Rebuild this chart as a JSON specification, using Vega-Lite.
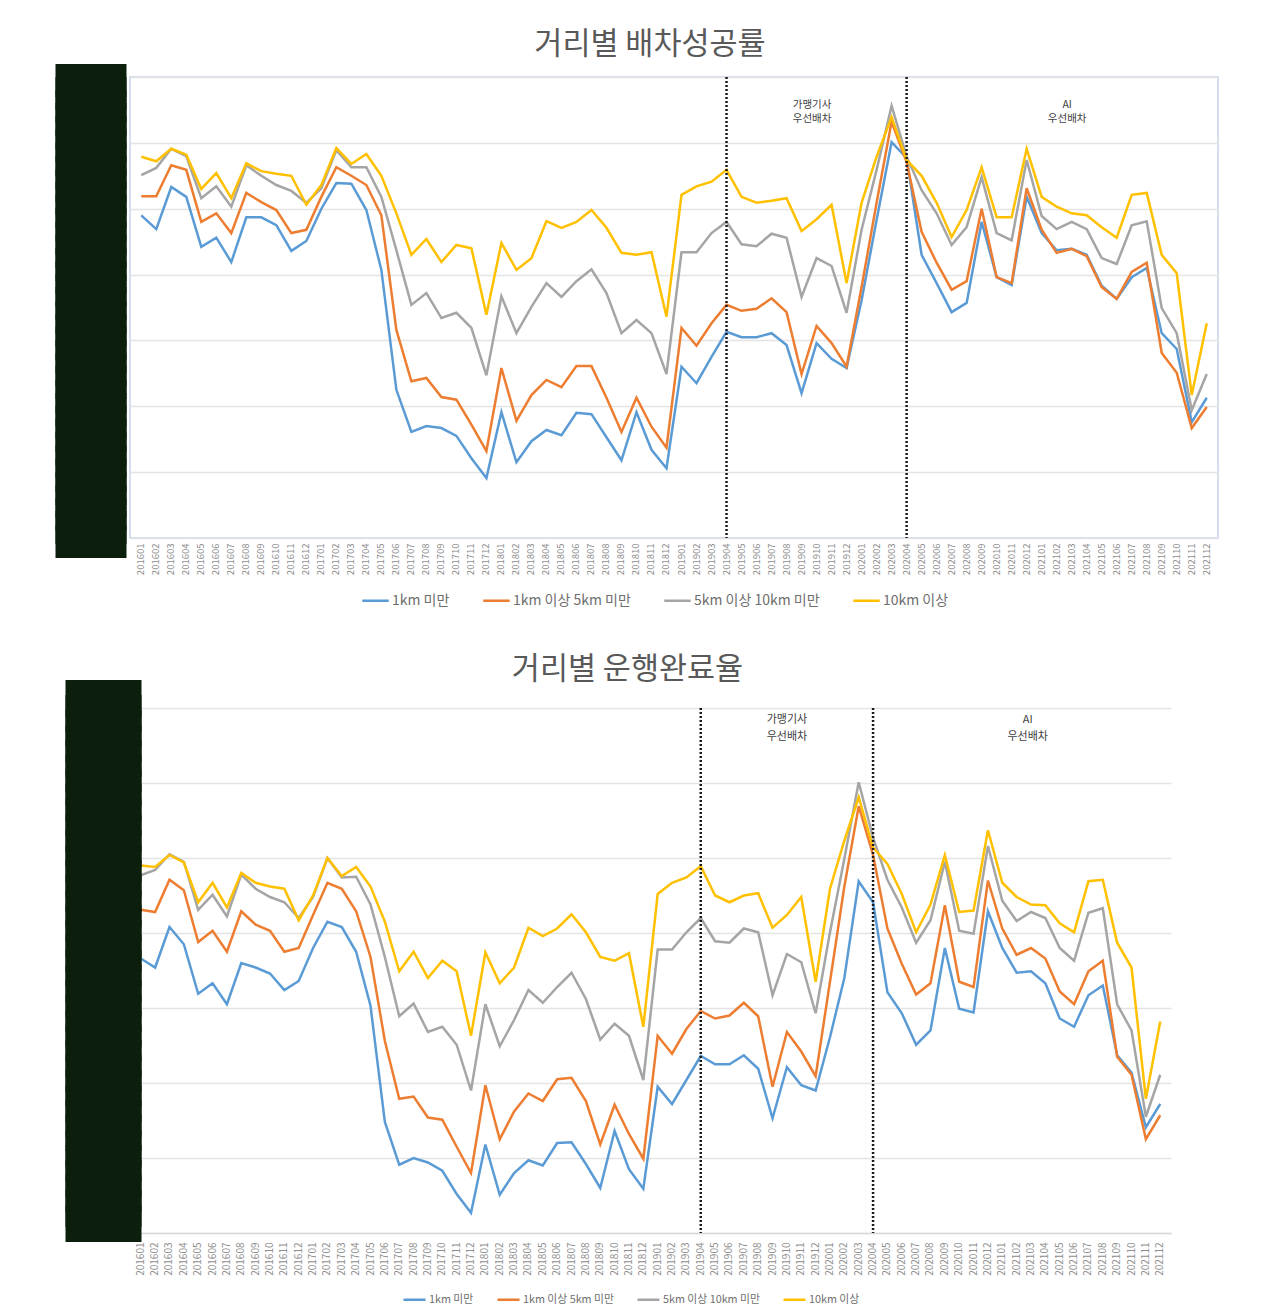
{
  "$schema": "https://vega.github.io/schema/vega-lite/v6.json",
  "background": "white",
  "padding": {"left": 37, "top": 29, "right": 5, "bottom": 5},
  "config": {
    "font": "Noto Sans CJK KR",
    "view": {"stroke": null},
    "title": {"font": "Noto Sans CJK KR", "fontSize": 30.5, "fontWeight": "normal", "color": "#595959", "anchor": "middle", "frame": "group"},
    "axis": {"labelFont": "Noto Sans CJK KR", "labelColor": "#8e8e8e"},
    "legend": {"labelFont": "Noto Sans CJK KR", "labelColor": "#6e6e6e"}
  },
  "datasets": {
    "dispatch": [
      {"m":"201601","1km 미만":79.0,"1km 이상 5km 미만":81.9,"5km 이상 10km 미만":85.1,"10km 이상":87.9},
      {"m":"201602","1km 미만":76.9,"1km 이상 5km 미만":81.9,"5km 이상 10km 미만":86.2,"10km 이상":87.2},
      {"m":"201603","1km 미만":83.3,"1km 이상 5km 미만":86.6,"5km 이상 10km 미만":89.1,"10km 이상":89.1},
      {"m":"201604","1km 미만":81.8,"1km 이상 5km 미만":85.9,"5km 이상 10km 미만":88.0,"10km 이상":88.2},
      {"m":"201605","1km 미만":74.2,"1km 이상 5km 미만":78.0,"5km 이상 10km 미만":81.6,"10km 이상":83.0},
      {"m":"201606","1km 미만":75.6,"1km 이상 5km 미만":79.3,"5km 이상 10km 미만":83.4,"10km 이상":85.4},
      {"m":"201607","1km 미만":71.9,"1km 이상 5km 미만":76.3,"5km 이상 10km 미만":80.3,"10km 이상":81.6},
      {"m":"201608","1km 미만":78.7,"1km 이상 5km 미만":82.4,"5km 이상 10km 미만":86.6,"10km 이상":86.9},
      {"m":"201609","1km 미만":78.7,"1km 이상 5km 미만":81.0,"5km 이상 10km 미만":85.0,"10km 이상":85.7},
      {"m":"201610","1km 미만":77.5,"1km 이상 5km 미만":79.8,"5km 이상 10km 미만":83.6,"10km 이상":85.3},
      {"m":"201611","1km 미만":73.6,"1km 이상 5km 미만":76.3,"5km 이상 10km 미만":82.7,"10km 이상":85.0},
      {"m":"201612","1km 미만":75.1,"1km 이상 5km 미만":76.8,"5km 이상 10km 미만":80.9,"10km 이상":80.6},
      {"m":"201701","1km 미만":80.0,"1km 이상 5km 미만":81.8,"5km 이상 10km 미만":83.1,"10km 이상":83.6},
      {"m":"201702","1km 미만":83.9,"1km 이상 5km 미만":86.3,"5km 이상 10km 미만":88.9,"10km 이상":89.2},
      {"m":"201703","1km 미만":83.8,"1km 이상 5km 미만":85.0,"5km 이상 10km 미만":86.3,"10km 이상":86.8},
      {"m":"201704","1km 미만":79.8,"1km 이상 5km 미만":83.6,"5km 이상 10km 미만":86.3,"10km 이상":88.3},
      {"m":"201705","1km 미만":70.7,"1km 이상 5km 미만":79.0,"5km 이상 10km 미만":81.8,"10km 이상":85.0},
      {"m":"201706","1km 미만":52.5,"1km 이상 5km 미만":61.6,"5km 이상 10km 미만":73.7,"10km 이상":79.3},
      {"m":"201707","1km 미만":46.1,"1km 이상 5km 미만":53.8,"5km 이상 10km 미만":65.4,"10km 이상":73.0},
      {"m":"201708","1km 미만":47.0,"1km 이상 5km 미만":54.3,"5km 이상 10km 미만":67.2,"10km 이상":75.4},
      {"m":"201709","1km 미만":46.7,"1km 이상 5km 미만":51.4,"5km 이상 10km 미만":63.4,"10km 이상":71.9},
      {"m":"201710","1km 미만":45.5,"1km 이상 5km 미만":51.0,"5km 이상 10km 미만":64.2,"10km 이상":74.5},
      {"m":"201711","1km 미만":42.1,"1km 이상 5km 미만":47.2,"5km 이상 10km 미만":61.9,"10km 이상":74.0},
      {"m":"201712","1km 미만":39.1,"1km 이상 5km 미만":43.2,"5km 이상 10km 미만":54.7,"10km 이상":63.9},
      {"m":"201801","1km 미만":49.1,"1km 이상 5km 미만":55.8,"5km 이상 10km 미만":66.7,"10km 이상":74.8},
      {"m":"201802","1km 미만":41.5,"1km 이상 5km 미만":47.8,"5km 이상 10km 미만":61.1,"10km 이상":70.7},
      {"m":"201803","1km 미만":44.7,"1km 이상 5km 미만":51.7,"5km 이상 10km 미만":65.1,"10km 이상":72.5},
      {"m":"201804","1km 미만":46.4,"1km 이상 5km 미만":54.0,"5km 이상 10km 미만":68.7,"10km 이상":78.1},
      {"m":"201805","1km 미만":45.6,"1km 이상 5km 미만":52.9,"5km 이상 10km 미만":66.6,"10km 이상":77.1},
      {"m":"201806","1km 미만":49.0,"1km 이상 5km 미만":56.1,"5km 이상 10km 미만":69.0,"10km 이상":78.0},
      {"m":"201807","1km 미만":48.8,"1km 이상 5km 미만":56.1,"5km 이상 10km 미만":70.8,"10km 이상":79.8},
      {"m":"201808","1km 미만":45.3,"1km 이상 5km 미만":51.3,"5km 이상 10km 미만":67.2,"10km 이상":77.1},
      {"m":"201809","1km 미만":41.8,"1km 이상 5km 미만":46.1,"5km 이상 10km 미만":61.1,"10km 이상":73.3},
      {"m":"201810","1km 미만":49.1,"1km 이상 5km 미만":51.3,"5km 이상 10km 미만":63.1,"10km 이상":73.0},
      {"m":"201811","1km 미만":43.4,"1km 이상 5km 미만":46.9,"5km 이상 10km 미만":61.1,"10km 이상":73.4},
      {"m":"201812","1km 미만":40.6,"1km 이상 5km 미만":43.7,"5km 이상 10km 미만":54.9,"10km 이상":63.6},
      {"m":"201901","1km 미만":56.0,"1km 이상 5km 미만":61.9,"5km 이상 10km 미만":73.4,"10km 이상":82.1},
      {"m":"201902","1km 미만":53.5,"1km 이상 5km 미만":59.2,"5km 이상 10km 미만":73.4,"10km 이상":83.4},
      {"m":"201903","1km 미만":57.5,"1km 이상 5km 미만":62.6,"5km 이상 10km 미만":76.3,"10km 이상":84.1},
      {"m":"201904","1km 미만":61.3,"1km 이상 5km 미만":65.4,"5km 이상 10km 미만":78.0,"10km 이상":85.9},
      {"m":"201905","1km 미만":60.5,"1km 이상 5km 미만":64.5,"5km 이상 10km 미만":74.6,"10km 이상":81.8},
      {"m":"201906","1km 미만":60.5,"1km 이상 5km 미만":64.8,"5km 이상 10km 미만":74.3,"10km 이상":80.9},
      {"m":"201907","1km 미만":61.1,"1km 이상 5km 미만":66.4,"5km 이상 10km 미만":76.2,"10km 이상":81.2},
      {"m":"201908","1km 미만":59.3,"1km 이상 5km 미만":64.3,"5km 이상 10km 미만":75.6,"10km 이상":81.6},
      {"m":"201909","1km 미만":52.0,"1km 이상 5km 미만":54.9,"5km 이상 10km 미만":66.6,"10km 이상":76.6},
      {"m":"201910","1km 미만":59.6,"1km 이상 5km 미만":62.2,"5km 이상 10km 미만":72.5,"10km 이상":78.4},
      {"m":"201911","1km 미만":57.2,"1km 이상 5km 미만":59.6,"5km 이상 10km 미만":71.3,"10km 이상":80.6},
      {"m":"201912","1km 미만":55.8,"1km 이상 5km 미만":56.0,"5km 이상 10km 미만":64.2,"10km 이상":68.7},
      {"m":"202001","1km 미만":66.1,"1km 이상 5km 미만":68.1,"5km 이상 10km 미만":76.8,"10km 이상":80.9},
      {"m":"202002","1km 미만":78.3,"1km 이상 5km 미만":80.9,"5km 이상 10km 미만":85.9,"10km 이상":87.9},
      {"m":"202003","1km 미만":90.1,"1km 이상 5km 미만":93.2,"5km 이상 10km 미만":95.6,"10km 이상":93.9},
      {"m":"202004","1km 미만":87.7,"1km 이상 5km 미만":87.1,"5km 이상 10km 미만":87.9,"10km 이상":87.4},
      {"m":"202005","1km 미만":73.0,"1km 이상 5km 미만":76.5,"5km 이상 10km 미만":82.8,"10km 이상":85.0},
      {"m":"202006","1km 미만":68.7,"1km 이상 5km 미만":71.8,"5km 이상 10km 미만":79.3,"10km 이상":80.9},
      {"m":"202007","1km 미만":64.3,"1km 이상 5km 미만":67.7,"5km 이상 10km 미만":74.5,"10km 이상":75.7},
      {"m":"202008","1km 미만":65.7,"1km 이상 5km 미만":69.0,"5km 이상 10km 미만":77.2,"10km 이상":79.8},
      {"m":"202009","1km 미만":78.0,"1km 이상 5km 미만":80.0,"5km 이상 10km 미만":84.8,"10km 이상":86.3},
      {"m":"202010","1km 미만":69.6,"1km 이상 5km 미만":69.6,"5km 이상 10km 미만":76.3,"10km 이상":78.7},
      {"m":"202011","1km 미만":68.4,"1km 이상 5km 미만":68.7,"5km 이상 10km 미만":75.2,"10km 이상":78.7},
      {"m":"202012","1km 미만":81.8,"1km 이상 5km 미만":83.1,"5km 이상 10km 미만":87.4,"10km 이상":89.1},
      {"m":"202101","1km 미만":76.3,"1km 이상 5km 미만":76.8,"5km 이상 10km 미만":78.9,"10km 이상":81.8},
      {"m":"202102","1km 미만":73.7,"1km 이상 5km 미만":73.3,"5km 이상 10km 미만":76.9,"10km 이상":80.3},
      {"m":"202103","1km 미만":73.9,"1km 이상 5km 미만":73.9,"5km 이상 10km 미만":78.0,"10km 이상":79.3},
      {"m":"202104","1km 미만":73.0,"1km 이상 5km 미만":72.8,"5km 이상 10km 미만":76.9,"10km 이상":79.0},
      {"m":"202105","1km 미만":68.3,"1km 이상 5km 미만":68.1,"5km 이상 10km 미만":72.5,"10km 이상":77.2},
      {"m":"202106","1km 미만":66.3,"1km 이상 5km 미만":66.3,"5km 이상 10km 미만":71.6,"10km 이상":75.6},
      {"m":"202107","1km 미만":69.6,"1km 이상 5km 미만":70.4,"5km 이상 10km 미만":77.5,"10km 이상":82.1},
      {"m":"202108","1km 미만":71.0,"1km 이상 5km 미만":71.8,"5km 이상 10km 미만":78.1,"10km 이상":82.4},
      {"m":"202109","1km 미만":61.1,"1km 이상 5km 미만":58.1,"5km 이상 10km 미만":64.9,"10km 이상":73.0},
      {"m":"202110","1km 미만":58.7,"1km 이상 5km 미만":55.1,"5km 이상 10km 미만":61.1,"10km 이상":70.2},
      {"m":"202111","1km 미만":47.6,"1km 이상 5km 미만":46.7,"5km 이상 10km 미만":49.4,"10km 이상":51.7},
      {"m":"202112","1km 미만":51.3,"1km 이상 5km 미만":49.9,"5km 이상 10km 미만":54.9,"10km 이상":62.6}
    ],
    "complete": [
      {"m":"201601","1km 미만":66.6,"1km 이상 5km 미만":73.1,"5km 이상 10km 미만":77.7,"10km 이상":79.0},
      {"m":"201602","1km 미만":65.4,"1km 이상 5km 미만":72.8,"5km 이상 10km 미만":78.4,"10km 이상":78.8},
      {"m":"201603","1km 미만":70.8,"1km 이상 5km 미만":77.1,"5km 이상 10km 미만":80.5,"10km 이상":80.4},
      {"m":"201604","1km 미만":68.5,"1km 이상 5km 미만":75.7,"5km 이상 10km 미만":79.5,"10km 이상":79.4},
      {"m":"201605","1km 미만":61.9,"1km 이상 5km 미만":68.8,"5km 이상 10km 미만":73.1,"10km 이상":74.1},
      {"m":"201606","1km 미만":63.3,"1km 이상 5km 미만":70.3,"5km 이상 10km 미만":75.1,"10km 이상":76.7},
      {"m":"201607","1km 미만":60.5,"1km 이상 5km 미만":67.5,"5km 이상 10km 미만":72.2,"10km 이상":73.4},
      {"m":"201608","1km 미만":66.0,"1km 이상 5km 미만":72.9,"5km 이상 10km 미만":77.8,"10km 이상":78.0},
      {"m":"201609","1km 미만":65.4,"1km 이상 5km 미만":71.1,"5km 이상 10km 미만":75.9,"10km 이상":76.7},
      {"m":"201610","1km 미만":64.6,"1km 이상 5km 미만":70.3,"5km 이상 10km 미만":74.8,"10km 이상":76.2},
      {"m":"201611","1km 미만":62.4,"1km 이상 5km 미만":67.5,"5km 이상 10km 미만":74.1,"10km 이상":75.9},
      {"m":"201612","1km 미만":63.6,"1km 이상 5km 미만":68.0,"5km 이상 10km 미만":72.0,"10km 이상":71.7},
      {"m":"201701","1km 미만":68.0,"1km 이상 5km 미만":72.4,"5km 이상 10km 미만":74.8,"10km 이상":75.0},
      {"m":"201702","1km 미만":71.5,"1km 이상 5km 미만":76.7,"5km 이상 10km 미만":80.0,"10km 이상":80.0},
      {"m":"201703","1km 미만":70.8,"1km 이상 5km 미만":75.9,"5km 이상 10km 미만":77.4,"10km 이상":77.6},
      {"m":"201704","1km 미만":67.5,"1km 이상 5km 미만":72.9,"5km 이상 10km 미만":77.5,"10km 이상":78.8},
      {"m":"201705","1km 미만":60.3,"1km 이상 5km 미만":66.8,"5km 이상 10km 미만":73.8,"10km 이상":76.2},
      {"m":"201706","1km 미만":44.8,"1km 이상 5km 미만":55.6,"5km 이상 10km 미만":66.8,"10km 이상":71.5},
      {"m":"201707","1km 미만":39.1,"1km 이상 5km 미만":47.9,"5km 이상 10km 미만":58.9,"10km 이상":64.9},
      {"m":"201708","1km 미만":40.0,"1km 이상 5km 미만":48.2,"5km 이상 10km 미만":60.6,"10km 이상":67.5},
      {"m":"201709","1km 미만":39.4,"1km 이상 5km 미만":45.4,"5km 이상 10km 미만":56.8,"10km 이상":64.0},
      {"m":"201710","1km 미만":38.3,"1km 이상 5km 미만":45.1,"5km 이상 10km 미만":57.5,"10km 이상":66.3},
      {"m":"201711","1km 미만":35.2,"1km 이상 5km 미만":41.5,"5km 이상 10km 미만":55.1,"10km 이상":64.9},
      {"m":"201712","1km 미만":32.7,"1km 이상 5km 미만":38.0,"5km 이상 10km 미만":49.0,"10km 이상":56.3},
      {"m":"201801","1km 미만":41.8,"1km 이상 5km 미만":49.7,"5km 이상 10km 미만":60.5,"10km 이상":67.4},
      {"m":"201802","1km 미만":35.1,"1km 이상 5km 미만":42.5,"5km 이상 10km 미만":54.9,"10km 이상":63.3},
      {"m":"201803","1km 미만":38.0,"1km 이상 5km 미만":46.2,"5km 이상 10km 미만":58.4,"10km 이상":65.4},
      {"m":"201804","1km 미만":39.7,"1km 이상 5km 미만":48.6,"5km 이상 10km 미만":62.4,"10km 이상":70.7},
      {"m":"201805","1km 미만":39.0,"1km 이상 5km 미만":47.6,"5km 이상 10km 미만":60.7,"10km 이상":69.6},
      {"m":"201806","1km 미만":42.0,"1km 이상 5km 미만":50.5,"5km 이상 10km 미만":62.8,"10km 이상":70.6},
      {"m":"201807","1km 미만":42.1,"1km 이상 5km 미만":50.7,"5km 이상 10km 미만":64.7,"10km 이상":72.5},
      {"m":"201808","1km 미만":39.2,"1km 이상 5km 미만":47.6,"5km 이상 10km 미만":61.2,"10km 이상":70.1},
      {"m":"201809","1km 미만":36.0,"1km 이상 5km 미만":41.8,"5km 이상 10km 미만":55.8,"10km 이상":66.8},
      {"m":"201810","1km 미만":43.6,"1km 이상 5km 미만":47.1,"5km 이상 10km 미만":57.9,"10km 이상":66.3},
      {"m":"201811","1km 미만":38.5,"1km 이상 5km 미만":43.2,"5km 이상 10km 미만":56.3,"10km 이상":67.3},
      {"m":"201812","1km 미만":35.9,"1km 이상 5km 미만":39.9,"5km 이상 10km 미만":50.4,"10km 이상":57.5},
      {"m":"201901","1km 미만":49.5,"1km 이상 5km 미만":56.3,"5km 이상 10km 미만":67.8,"10km 이상":75.2},
      {"m":"201902","1km 미만":47.2,"1km 이상 5km 미만":53.9,"5km 이상 10km 미만":67.8,"10km 이상":76.7},
      {"m":"201903","1km 미만":50.4,"1km 이상 5km 미만":57.2,"5km 이상 10km 미만":70.1,"10km 이상":77.4},
      {"m":"201904","1km 미만":53.6,"1km 이상 5km 미만":59.6,"5km 이상 10km 미만":72.0,"10km 이상":78.9},
      {"m":"201905","1km 미만":52.5,"1km 이상 5km 미만":58.6,"5km 이상 10km 미만":68.9,"10km 이상":75.0},
      {"m":"201906","1km 미만":52.5,"1km 이상 5km 미만":59.0,"5km 이상 10km 미만":68.7,"10km 이상":74.1},
      {"m":"201907","1km 미만":53.7,"1km 이상 5km 미만":60.7,"5km 이상 10km 미만":70.6,"10km 이상":75.0},
      {"m":"201908","1km 미만":51.9,"1km 이상 5km 미만":58.9,"5km 이상 10km 미만":70.1,"10km 이상":75.3},
      {"m":"201909","1km 미만":45.3,"1km 이상 5km 미만":49.5,"5km 이상 10km 미만":61.7,"10km 이상":70.7},
      {"m":"201910","1km 미만":52.1,"1km 이상 5km 미만":56.8,"5km 이상 10km 미만":67.2,"10km 이상":72.4},
      {"m":"201911","1km 미만":49.7,"1km 이상 5km 미만":54.2,"5km 이상 10km 미만":66.1,"10km 이상":74.8},
      {"m":"201912","1km 미만":49.0,"1km 이상 5km 미만":50.9,"5km 이상 10km 미만":59.3,"10km 이상":63.5},
      {"m":"202001","1km 미만":56.1,"1km 이상 5km 미만":63.5,"5km 이상 10km 미만":70.1,"10km 이상":75.9},
      {"m":"202002","1km 미만":64.0,"1km 이상 5km 미만":76.2,"5km 이상 10km 미만":79.9,"10km 이상":82.3},
      {"m":"202003","1km 미만":76.9,"1km 이상 5km 미만":86.9,"5km 이상 10km 미만":90.1,"10km 이상":88.1},
      {"m":"202004","1km 미만":74.1,"1km 이상 5km 미만":80.4,"5km 이상 10km 미만":82.7,"10km 이상":81.4},
      {"m":"202005","1km 미만":62.1,"1km 이상 5km 미만":70.6,"5km 이상 10km 미만":77.1,"10km 이상":79.2},
      {"m":"202006","1km 미만":59.3,"1km 이상 5km 미만":65.9,"5km 이상 10km 미만":73.4,"10km 이상":75.2},
      {"m":"202007","1km 미만":55.1,"1km 이상 5km 미만":61.8,"5km 이상 10km 미만":68.7,"10km 이상":70.1},
      {"m":"202008","1km 미만":57.0,"1km 이상 5km 미만":63.3,"5km 이상 10km 미만":71.7,"10km 이상":73.8},
      {"m":"202009","1km 미만":68.0,"1km 이상 5km 미만":73.7,"5km 이상 10km 미만":79.5,"10km 이상":80.4},
      {"m":"202010","1km 미만":59.9,"1km 이상 5km 미만":63.5,"5km 이상 10km 미만":70.3,"10km 이상":72.8},
      {"m":"202011","1km 미만":59.4,"1km 이상 5km 미만":62.8,"5km 이상 10km 미만":69.9,"10km 이상":73.0},
      {"m":"202012","1km 미만":72.9,"1km 이상 5km 미만":77.0,"5km 이상 10km 미만":81.6,"10km 이상":83.7},
      {"m":"202101","1km 미만":68.0,"1km 이상 5km 미만":70.6,"5km 이상 10km 미만":74.3,"10km 이상":76.7},
      {"m":"202102","1km 미만":64.7,"1km 이상 5km 미만":67.1,"5km 이상 10km 미만":71.6,"10km 이상":74.8},
      {"m":"202103","1km 미만":64.9,"1km 이상 5km 미만":68.0,"5km 이상 10km 미만":72.8,"10km 이상":73.8},
      {"m":"202104","1km 미만":63.3,"1km 이상 5km 미만":66.6,"5km 이상 10km 미만":72.0,"10km 이상":73.7},
      {"m":"202105","1km 미만":58.6,"1km 이상 5km 미만":62.2,"5km 이상 10km 미만":68.0,"10km 이상":71.3},
      {"m":"202106","1km 미만":57.5,"1km 이상 5km 미만":60.5,"5km 이상 10km 미만":66.3,"10km 이상":70.1},
      {"m":"202107","1km 미만":61.7,"1km 이상 5km 미만":64.9,"5km 이상 10km 미만":72.7,"10km 이상":76.9},
      {"m":"202108","1km 미만":63.0,"1km 이상 5km 미만":66.3,"5km 이상 10km 미만":73.3,"10km 이상":77.1},
      {"m":"202109","1km 미만":53.7,"1km 이상 5km 미만":53.5,"5km 이상 10km 미만":60.5,"10km 이상":68.7},
      {"m":"202110","1km 미만":51.4,"1km 이상 5km 미만":51.1,"5km 이상 10km 미만":57.0,"10km 이상":65.4},
      {"m":"202111","1km 미만":44.1,"1km 이상 5km 미만":42.5,"5km 이상 10km 미만":45.5,"10km 이상":47.9},
      {"m":"202112","1km 미만":47.2,"1km 이상 5km 미만":45.7,"5km 이상 10km 미만":51.1,"10km 이상":58.2}
    ],
    "events": [{"m":"201904"},{"m":"202004"}],
    "notesTop": [
      {"m":"201910","v":96.5,"t":"가맹기사\n우선배차"},
      {"m":"202103","v":96.5,"t":"AI\n우선배차"}
    ],
    "notesBottomA": [{"m":"201910","v":99.2,"t":"가맹기사\n우선배차"}],
    "notesBottomB": [{"m":"202102","v":99.2,"t":"AI\n우선배차"}]
  },
  "bounds": "flush",
  "spacing": 170,
  "resolve": {
    "scale": {"x": "independent", "y": "independent", "color": "independent"},
    "legend": {"color": "independent"}
  },
  "vconcat": [
    {
      "width": 1088,
      "height": 461,
      "title": {"text": "거리별 배차성공률", "offset": 3, "dx": -24},
      "view": {"stroke": "#c5d5e8", "strokeWidth": 1.5},
      "resolve": {"scale": {"y": "independent"}},
      "layer": [
        {
          "data": {"name": "dispatch"},
          "transform": [{"fold": ["1km 미만", "1km 이상 5km 미만", "5km 이상 10km 미만", "10km 이상"], "as": ["s", "v"]}],
          "mark": {"type": "line", "strokeWidth": 2.5},
          "encoding": {
            "x": {"field": "m", "type": "ordinal", "scale": {"padding": 0.5},
                  "axis": {"title": null, "labelAngle": 270, "labelFontSize": 9.5, "ticks": false, "domain": false, "grid": false, "labelPadding": 5, "labelOverlap": false}},
            "y": {"field": "v", "type": "quantitative", "scale": {"domain": [30, 100], "nice": false, "zero": false},
                  "axis": {"orient": "right", "title": null, "labels": false, "ticks": false, "domain": false, "values": [30, 40, 50, 60, 70, 80, 90, 100], "grid": true, "gridColor": "#e4e4e4", "gridWidth": 1.3, "zindex": 0}},
            "color": {"field": "s", "type": "nominal",
                      "scale": {"domain": ["1km 미만", "1km 이상 5km 미만", "5km 이상 10km 미만", "10km 이상"], "range": ["#5b9bd5", "#ed7d31", "#a5a5a5", "#ffc000"]},
                      "legend": {"orient": "none", "legendX": 231, "legendY": 509, "direction": "horizontal", "title": null, "symbolType": "stroke", "symbolStrokeWidth": 2.5, "symbolSize": 700, "labelFontSize": 14, "columnPadding": 28, "labelOffset": 2}}
          }
        },
        {
          "data": {"name": "events"},
          "mark": {"type": "rule", "strokeDash": [2, 2], "strokeWidth": 2.5, "color": "#1a1a1a"},
          "encoding": {"x": {"field": "m", "type": "ordinal"}}
        },
        {
          "data": {"name": "notesTop"},
          "mark": {"type": "text", "lineBreak": "\n", "fontSize": 10.5, "lineHeight": 14, "baseline": "top", "align": "center", "color": "#404040", "dx": -4.5},
          "encoding": {
            "x": {"field": "m", "type": "ordinal"},
            "y": {"field": "v", "type": "quantitative", "scale": {"domain": [30, 100], "nice": false, "zero": false},
                  "axis": {"orient": "left", "title": null, "labels": false, "grid": false, "domain": false, "ticks": true,
                           "values": [30,32,34,36,38,40,42,44,46,48,50,52,54,56,58,60,62,64,66,68,70,72,74,76,78,80,82,84,86,88,90,92,94,96,98,100],
                           "tickSize": 71, "tickWidth": 33, "tickColor": "#0c1f0c", "tickCap": "butt", "tickOffset": 2.5, "offset": 4, "zindex": 1}},
            "text": {"field": "t"}
          }
        }
      ]
    },
    {
      "width": 1041,
      "height": 525,
      "title": {"text": "거리별 운행완료율", "offset": -5.5, "dx": -23},
      "resolve": {"scale": {"y": "independent"}},
      "layer": [
        {
          "data": {"name": "complete"},
          "transform": [{"fold": ["1km 미만", "1km 이상 5km 미만", "5km 이상 10km 미만", "10km 이상"], "as": ["s", "v"]}],
          "mark": {"type": "line", "strokeWidth": 2.5},
          "encoding": {
            "x": {"field": "m", "type": "ordinal", "scale": {"padding": 0.5},
                  "axis": {"title": null, "labelAngle": 270, "labelFontSize": 10, "ticks": false, "domain": true, "domainColor": "#d9d9d9", "domainWidth": 1.3, "grid": false, "labelPadding": 9, "labelOverlap": false}},
            "y": {"field": "v", "type": "quantitative", "scale": {"domain": [30, 100], "nice": false, "zero": false},
                  "axis": {"orient": "right", "title": null, "labels": false, "ticks": false, "domain": false, "values": [30, 40, 50, 60, 70, 80, 90, 100], "grid": true, "gridColor": "#e4e4e4", "gridWidth": 1.3, "zindex": 0}},
            "color": {"field": "s", "type": "nominal",
                      "scale": {"domain": ["1km 미만", "1km 이상 5km 미만", "5km 이상 10km 미만", "10km 이상"], "range": ["#5b9bd5", "#ed7d31", "#a5a5a5", "#ffc000"]},
                      "legend": {"orient": "none", "legendX": 272, "legendY": 579, "direction": "horizontal", "title": null, "symbolType": "stroke", "symbolStrokeWidth": 2.5, "symbolSize": 484, "labelFontSize": 10.8, "columnPadding": 18, "labelOffset": 2}}
          }
        },
        {
          "data": {"name": "events"},
          "mark": {"type": "rule", "strokeDash": [2, 2], "strokeWidth": 2.5, "color": "#1a1a1a"},
          "encoding": {"x": {"field": "m", "type": "ordinal"}}
        },
        {
          "data": {"name": "notesBottomA"},
          "mark": {"type": "text", "lineBreak": "\n", "fontSize": 11, "lineHeight": 17, "baseline": "top", "align": "center", "color": "#404040", "dx": 0},
          "encoding": {
            "x": {"field": "m", "type": "ordinal"},
            "y": {"field": "v", "type": "quantitative", "scale": {"domain": [30, 100], "nice": false, "zero": false},
                  "axis": {"orient": "left", "title": null, "labels": false, "grid": false, "domain": false, "ticks": true,
                           "values": [30,32,34,36,38,40,42,44,46,48,50,52,54,56,58,60,62,64,66,68,70,72,74,76,78,80,82,84,86,88,90,92,94,96,98,100],
                           "tickSize": 76, "tickWidth": 37, "tickColor": "#0c1f0c", "tickCap": "butt", "tickOffset": -10.5, "offset": -11, "zindex": 1}},
            "text": {"field": "t"}
          }
        },
        {
          "data": {"name": "notesBottomB"},
          "mark": {"type": "text", "lineBreak": "\n", "fontSize": 11, "lineHeight": 17, "baseline": "top", "align": "center", "color": "#404040", "dx": 11},
          "encoding": {
            "x": {"field": "m", "type": "ordinal"},
            "y": {"field": "v", "type": "quantitative", "scale": {"domain": [30, 100], "nice": false, "zero": false}, "axis": null},
            "text": {"field": "t"}
          }
        }
      ]
    }
  ]
}
